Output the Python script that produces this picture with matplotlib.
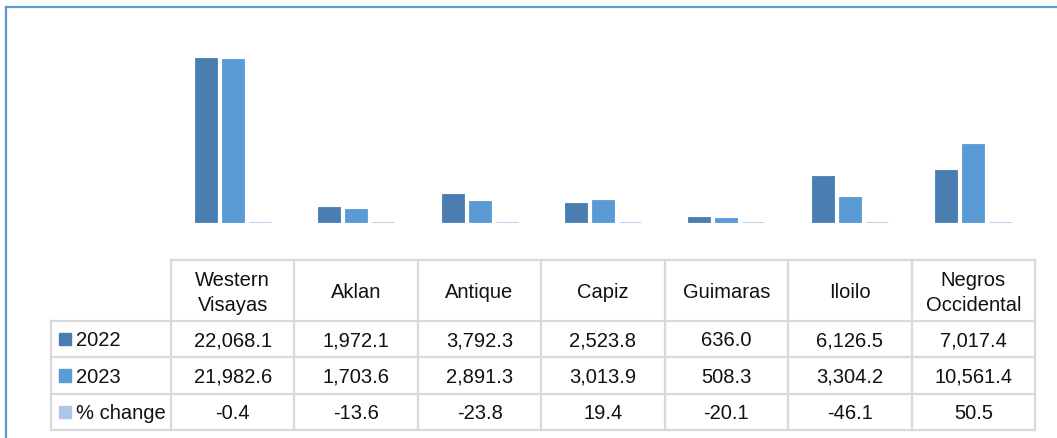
import numpy as np
import matplotlib.pyplot as plt
from matplotlib.patches import Rectangle
from matplotlib.lines import Line2D

plt.rcParams['font.family'] = ['Liberation Sans', 'DejaVu Sans']

# data
provinces = ['Western\nVisayas', 'Aklan', 'Antique', 'Capiz', 'Guimaras', 'Iloilo', 'Negros\nOccidental']
v2022 = [22068.1, 1972.1, 3792.3, 2523.8, 636.0, 6126.5, 7017.4]
v2023 = [21982.6, 1703.6, 2891.3, 3013.9, 508.3, 3304.2, 10561.4]
pct = [-0.4, -13.6, -23.8, 19.4, -20.1, -46.1, 50.5]
series = ['2022', '2023', '% change']
colors = ['#4a7eb0', '#5b9bd5', '#aec7e6']

W, H = 1057, 439
fig = plt.figure(figsize=(W / 100, H / 100), dpi=100)

def rect(x0, y0, x1, y1):
    # pixel box (top-left origin) -> figure fraction
    return [x0 / W, 1 - y1 / H, (x1 - x0) / W, (y1 - y0) / H]

# column geometry (pixels)
tab_left, col_left, tab_right = 51, 171, 1035
cw = (tab_right - col_left) / 7
lab_w = (col_left - tab_left) / cw
xlo, xhi = -0.5 - lab_w, 6.5

# bars
ymax = 25000
base_y, top_y = 223, 59
ax_top = base_y - (base_y - top_y) * ymax / max(v2022)
ax = fig.add_axes(rect(tab_left, ax_top, tab_right, base_y))
x = np.arange(len(provinces))
offs = [-0.219, 0, 0.219]
for vals, off, c in zip([v2022, v2023, pct], offs, colors):
    ax.bar(x + off, vals, width=0.178, color=c, edgecolor=c, linewidth=0.6, clip_on=False)
ax.set_xlim(xlo, xhi)
ax.set_ylim(0, ymax)
ax.axis('off')

# table
tx = fig.add_axes(rect(tab_left, 261, tab_right, 431))
hdr = 1.68
nrows = 3
tx.set_xlim(xlo, xhi)
tx.set_ylim(nrows + hdr, 0)
tx.axis('off')
grid = '#d9d9d9'
lw = 1.6

# horizontal lines
tx.plot([-0.5, 6.5], [0, 0], color=grid, lw=lw, clip_on=False)
for r in range(nrows + 1):
    tx.plot([xlo, 6.5], [hdr + r, hdr + r], color=grid, lw=lw, clip_on=False)
# vertical lines
tx.plot([xlo, xlo], [hdr, hdr + nrows], color=grid, lw=lw, clip_on=False)
for i in range(len(provinces) + 1):
    tx.plot([i - 0.5, i - 0.5], [0, hdr + nrows], color=grid, lw=lw, clip_on=False)

fs = 14.5
for i, p in enumerate(provinces):
    tx.text(i, hdr / 2 + 0.03, p, ha='center', va='center', fontsize=fs, linespacing=1.4, color='#111111')

rows = [v2022, v2023, pct]
for r, (name, vals, c) in enumerate(zip(series, rows, colors)):
    yc = hdr + r + 0.52
    for i, v in enumerate(vals):
        s = f'{v:,.1f}'
        tx.text(i, yc, s, ha='center', va='center', fontsize=fs, color='#111111')
    sw = 12 / cw
    tx.add_patch(Rectangle((xlo + 8 / cw, yc - 0.19), sw, 0.34, color=c, clip_on=False))
    tx.text(xlo + 25 / cw, yc, name, ha='left', va='center', fontsize=fs, color='#111111')

# outer frame (top and left edges visible)
fig.add_artist(Line2D([6 / W, 1], [1 - 8 / H, 1 - 8 / H], color='#5b9bd5', lw=1.6, transform=fig.transFigure))
fig.add_artist(Line2D([6 / W, 6 / W], [1 - 8 / H, 0], color='#5b9bd5', lw=1.6, transform=fig.transFigure))

fig.savefig('out.png', dpi=100)
